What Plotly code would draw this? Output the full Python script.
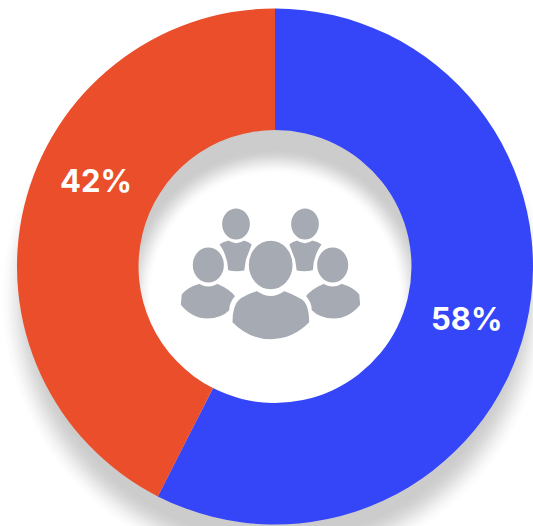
import plotly.graph_objects as go

labels = ["Blue", "Red"]
values = [57.5, 42.5]
colors = ["#3545F8", "#EB4E2A"]
label_text = ["58%", "42%"]

W, H = 533, 526
CX, CY, R, HOLE = 275, 266.5, 258, 136.5
SHADOW_DY, BLUR_OUT, BLUR_IN = 31, 18, 13
ICON = "#A6ABB3"


def px(x):
    return x / W


def py(y):
    return 1 - y / H


def disk(cx, cy, rx, ry, fill, line=None, lw=0):
    return dict(type="circle", xref="paper", yref="paper", layer="below",
                x0=px(cx - rx), x1=px(cx + rx), y0=py(cy + ry), y1=py(cy - ry),
                fillcolor=fill, line=dict(color=line or fill, width=lw))


def grey(t):
    s = t * t * (3 - 2 * t)
    v = round(255 - 51 * s)
    return f"rgb({v},{v},{v})"


def zoom_path(cmds, mirror=False):
    """Icon path written in zoom coordinates (3x, origin 130,120)."""
    out = []
    for c in cmds:
        op, pts = c[0], c[1:]
        out.append(op)
        for x, y in pts:
            if mirror:
                x = 843 - x
            out.append(f"{px(130 + x / 3):.5f},{py(120 + y / 3):.5f}")
    return " ".join(out)


def icon_shape(cmds, mirror=False):
    return dict(type="path", xref="paper", yref="paper", layer="below",
                path=zoom_path(cmds, mirror) + " Z", fillcolor=ICON,
                line=dict(color="white", width=1.6))


def icon_head(x, y, rx, ry):
    return disk(130 + x / 3, 120 + y / 3, rx / 3, ry / 3, ICON, "white", 1.6)


shapes = []
sy = CY + SHADOW_DY
n = 2 * BLUR_OUT
for i in range(n + 1):
    shapes.append(disk(CX, sy, R + BLUR_OUT - i, R + BLUR_OUT - i, grey(i / n)))
n = 2 * BLUR_IN
for i in range(n + 1):
    shapes.append(disk(CX, sy, HOLE + BLUR_IN - i, HOLE + BLUR_IN - i, grey(1 - i / n)))

back_torso = [("M", (265, 372)), ("Q", (280, 362), (296, 359)), ("Q", (318, 375), (342, 359)),
              ("Q", (355, 362), (368, 372)), ("L", (350, 420)), ("L", (345, 453)),
              ("Q", (318, 460), (292, 452)), ("Q", (292, 410), (265, 372))]
side_body = [("M", (150, 555)), ("Q", (185, 598), (232, 598)), ("Q", (275, 598), (300, 572)),
             ("Q", (300, 548), (318, 528)), ("Q", (300, 505), (262, 489)),
             ("Q", (235, 505), (208, 489)), ("Q", (170, 500), (153, 522))]
front_body = [("M", (305, 608)), ("Q", (355, 660), (422, 660)), ("Q", (490, 660), (540, 608)),
              ("Q", (540, 550), (515, 535)), ("Q", (490, 520), (462, 511)),
              ("Q", (422, 540), (382, 511)), ("Q", (345, 522), (325, 538)),
              ("Q", (305, 555), (305, 608))]

shapes += [icon_shape(back_torso), icon_shape(back_torso, True),
           icon_head(318, 312, 44, 49), icon_head(525, 312, 44, 49),
           icon_shape(side_body), icon_shape(side_body, True),
           icon_head(235, 435, 49, 55), icon_head(608, 435, 49, 55),
           icon_shape(front_body), icon_head(422, 435, 68, 75)]

label_pos = [(466, 318), (96, 180)]
annotations = [dict(text=t, x=px(x), y=py(y), xref="paper", yref="paper", showarrow=False,
                    xanchor="center", yanchor="middle",
                    font=dict(family="Inter", size=31, color="white", weight=700))
               for t, (x, y) in zip(label_text, label_pos)]

fig = go.Figure(go.Pie(labels=labels, values=values, hole=HOLE / R, sort=False,
                       direction="clockwise", rotation=0, textinfo="none",
                       marker=dict(colors=colors, line=dict(width=0)),
                       domain=dict(x=[px(CX - R), px(CX + R)], y=[py(CY + R), py(CY - R)])))
fig.update_layout(width=W, height=H, margin=dict(l=0, r=0, t=0, b=0), showlegend=False,
                  paper_bgcolor="white", shapes=shapes, annotations=annotations)
fig.write_html("out.html", config=dict(displayModeBar=False),
               post_script="document.body.style.margin='0';document.documentElement.style.overflow='hidden';")
